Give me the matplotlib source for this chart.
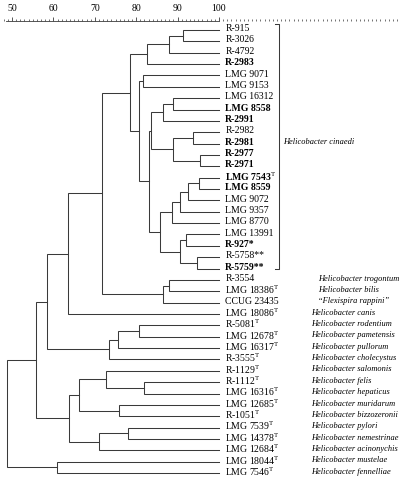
import matplotlib.pyplot as plt
from matplotlib.ticker import MultipleLocator

plt.rcParams['font.family'] = 'Liberation Serif'
plt.rcParams['mathtext.fontset'] = 'custom'
plt.rcParams['mathtext.rm'] = 'Liberation Serif'
plt.rcParams['mathtext.it'] = 'Liberation Serif:italic'
plt.rcParams['mathtext.bf'] = 'Liberation Serif:bold'

# leaves, top to bottom
strains = ["R-915", "R-3026", "R-4792", "R-2983", "LMG 9071", "LMG 9153",
           "LMG 16312", "LMG 8558", "R-2991", "R-2982", "R-2981", "R-2977",
           "R-2971", "LMG 7543", "LMG 8559", "LMG 9072", "LMG 9357",
           "LMG 8770", "LMG 13991", "R-927", "R-5758", "R-5759",
           "R-3554", "LMG 18386", "CCUG 23435", "LMG 18086", "R-5081",
           "LMG 12678", "LMG 16317", "R-3555", "R-1129", "R-1112",
           "LMG 16316", "LMG 12685", "R-1051", "LMG 7539", "LMG 14378",
           "LMG 12684", "LMG 18044", "LMG 7546"]
marks = ["", "", "", "", "", "", "", "", "", "", "", "", "", "T", "", "",
         "", "", "", "*", "**", "**", "", "T", "", "T", "T", "T", "T", "T",
         "T", "T", "T", "T", "T", "T", "T", "T", "T", "T"]
bold = ["R-2983", "LMG 8558", "R-2991", "R-2981", "R-2977", "R-2971",
        "LMG 7543", "LMG 8559", "R-927", "R-5759"]
species = ["Helicobacter trogontum", "Helicobacter bilis",
           "\u201cFlexispira rappini\u201d", "Helicobacter canis",
           "Helicobacter rodentium", "Helicobacter pametensis",
           "Helicobacter pullorum", "Helicobacter cholecystus",
           "Helicobacter salomonis", "Helicobacter felis",
           "Helicobacter hepaticus", "Helicobacter muridarum",
           "Helicobacter bizzozeronii", "Helicobacter pylori",
           "Helicobacter nemestrinae", "Helicobacter acinonychis",
           "Helicobacter mustelae", "Helicobacter fennelliae"]
n_cinaedi = 22

# (node, child 1, child 2, similarity %)
links = [
    ("A1", "R-915", "R-3026", 91.4),
    ("A2", "A1", "R-4792", 88.0),
    ("A", "A2", "R-2983", 82.7),
    ("P", "LMG 9071", "LMG 9153", 81.7),
    ("D1", "LMG 16312", "LMG 8558", 88.8),
    ("D", "D1", "R-2991", 86.4),
    ("E1", "R-2982", "R-2981", 93.6),
    ("E2", "R-2977", "R-2971", 95.4),
    ("E", "E1", "E2", 88.8),
    ("DE", "D", "E", 83.6),
    ("G1", "LMG 7543", "LMG 8559", 95.2),
    ("G2", "G1", "LMG 9072", 92.6),
    ("G3", "G2", "LMG 9357", 90.6),
    ("G", "G3", "LMG 8770", 88.6),
    ("H1", "LMG 13991", "R-927", 92.0),
    ("H2", "R-5758", "R-5759", 94.6),
    ("H", "H1", "H2", 90.6),
    ("F", "G", "H", 85.7),
    ("C", "DE", "F", 83.0),
    ("B", "P", "C", 80.7),
    ("CIN", "A", "B", 78.5),
    ("T1", "R-3554", "LMG 18386", 87.9),
    ("T", "T1", "CCUG 23435", 86.4),
    ("CT", "CIN", "T", 71.8),
    ("CTC", "CT", "LMG 18086", 63.6),
    ("R1", "R-5081", "LMG 12678", 80.7),
    ("R2", "R1", "LMG 16317", 75.5),
    ("R", "R2", "R-3555", 73.4),
    ("U", "CTC", "R", 58.5),
    ("S1", "R-1112", "LMG 16316", 82.0),
    ("S", "R-1129", "S1", 72.7),
    ("M", "LMG 12685", "R-1051", 75.9),
    ("SM", "S", "M", 66.2),
    ("Y1", "LMG 7539", "LMG 14378", 77.9),
    ("Y", "Y1", "LMG 12684", 71.1),
    ("SMY", "SM", "Y", 63.8),
    ("V", "U", "SMY", 55.8),
    ("W", "LMG 18044", "LMG 7546", 60.8),
    ("ROOT", "V", "W", 48.9),
]

fig = plt.figure(figsize=(4.0, 4.84), dpi=100)
ax = fig.add_axes([0, 0, 1, 1])
px = 4.14  # pixels per % similarity
ax.set_xlim(50 - 12 / px, 50 + 388 / px)
ax.set_ylim((484 - 30) / 11.36, -30 / 11.36)
ax.axis('off')

lc = '#3a3a3a'
lw = 0.75
pos = {s: (100.0, i) for i, s in enumerate(strains)}
for node, a, b, sim in links:
    xa, ya = pos[a]
    xb, yb = pos[b]
    ax.plot([xa, sim, sim, xb], [ya, ya, yb, yb], color=lc, lw=lw,
            solid_joinstyle='miter')
    pos[node] = (sim, (ya + yb) / 2)

fs = 7.0
fs_sp = 6.0
for i, s in enumerate(strains):
    lab = s
    if marks[i] == "T":
        lab = s + r"$^{\mathrm{T}}$"
    elif marks[i]:
        lab = s + marks[i]
    ax.text(101.5, i - 0.12, lab, fontsize=fs, va='center', ha='left',
            fontweight='bold' if s in bold else 'normal')

for k, sp in enumerate(species):
    i = n_cinaedi + k
    xs = 123.9 if k < 3 else 122.2
    ax.text(xs, i - 0.12, sp, fontsize=fs_sp, va='center', ha='left',
            style='italic')

# bracket for H. cinaedi
ax.plot([113.5, 114.5, 114.5, 113.5], [-0.5, -0.5, n_cinaedi - 1, n_cinaedi - 1],
        color=lc, lw=lw)
ax.text(115.5, 10 - 0.12, "Helicobacter cinaedi", fontsize=fs_sp, va='center',
        ha='left', style='italic')

# similarity scale
sc = fig.add_axes([0, 1 - 21 / 484, 1, 0.0001])
sc.set_xlim(ax.get_xlim())
sc.set_yticks([])
for sp in ['left', 'right', 'bottom']:
    sc.spines[sp].set_visible(False)
sc.spines['top'].set_bounds(48.6, 100)
sc.spines['top'].set_linewidth(0.6)
sc.spines['top'].set_color(lc)
sc.xaxis.set_ticks_position('top')
sc.set_xticks(range(50, 101, 10))
sc.xaxis.set_minor_locator(MultipleLocator(1))
sc.tick_params(axis='x', which='major', direction='out', length=3.2,
               width=0.6, color=lc, pad=2.5, labelsize=7, labeltop=True,
               labelbottom=False)
sc.tick_params(axis='x', which='minor', direction='out', length=1.8,
               width=0.5, color=lc)
sc.set_xlim(ax.get_xlim())

fig.savefig('out.png', dpi=100)
